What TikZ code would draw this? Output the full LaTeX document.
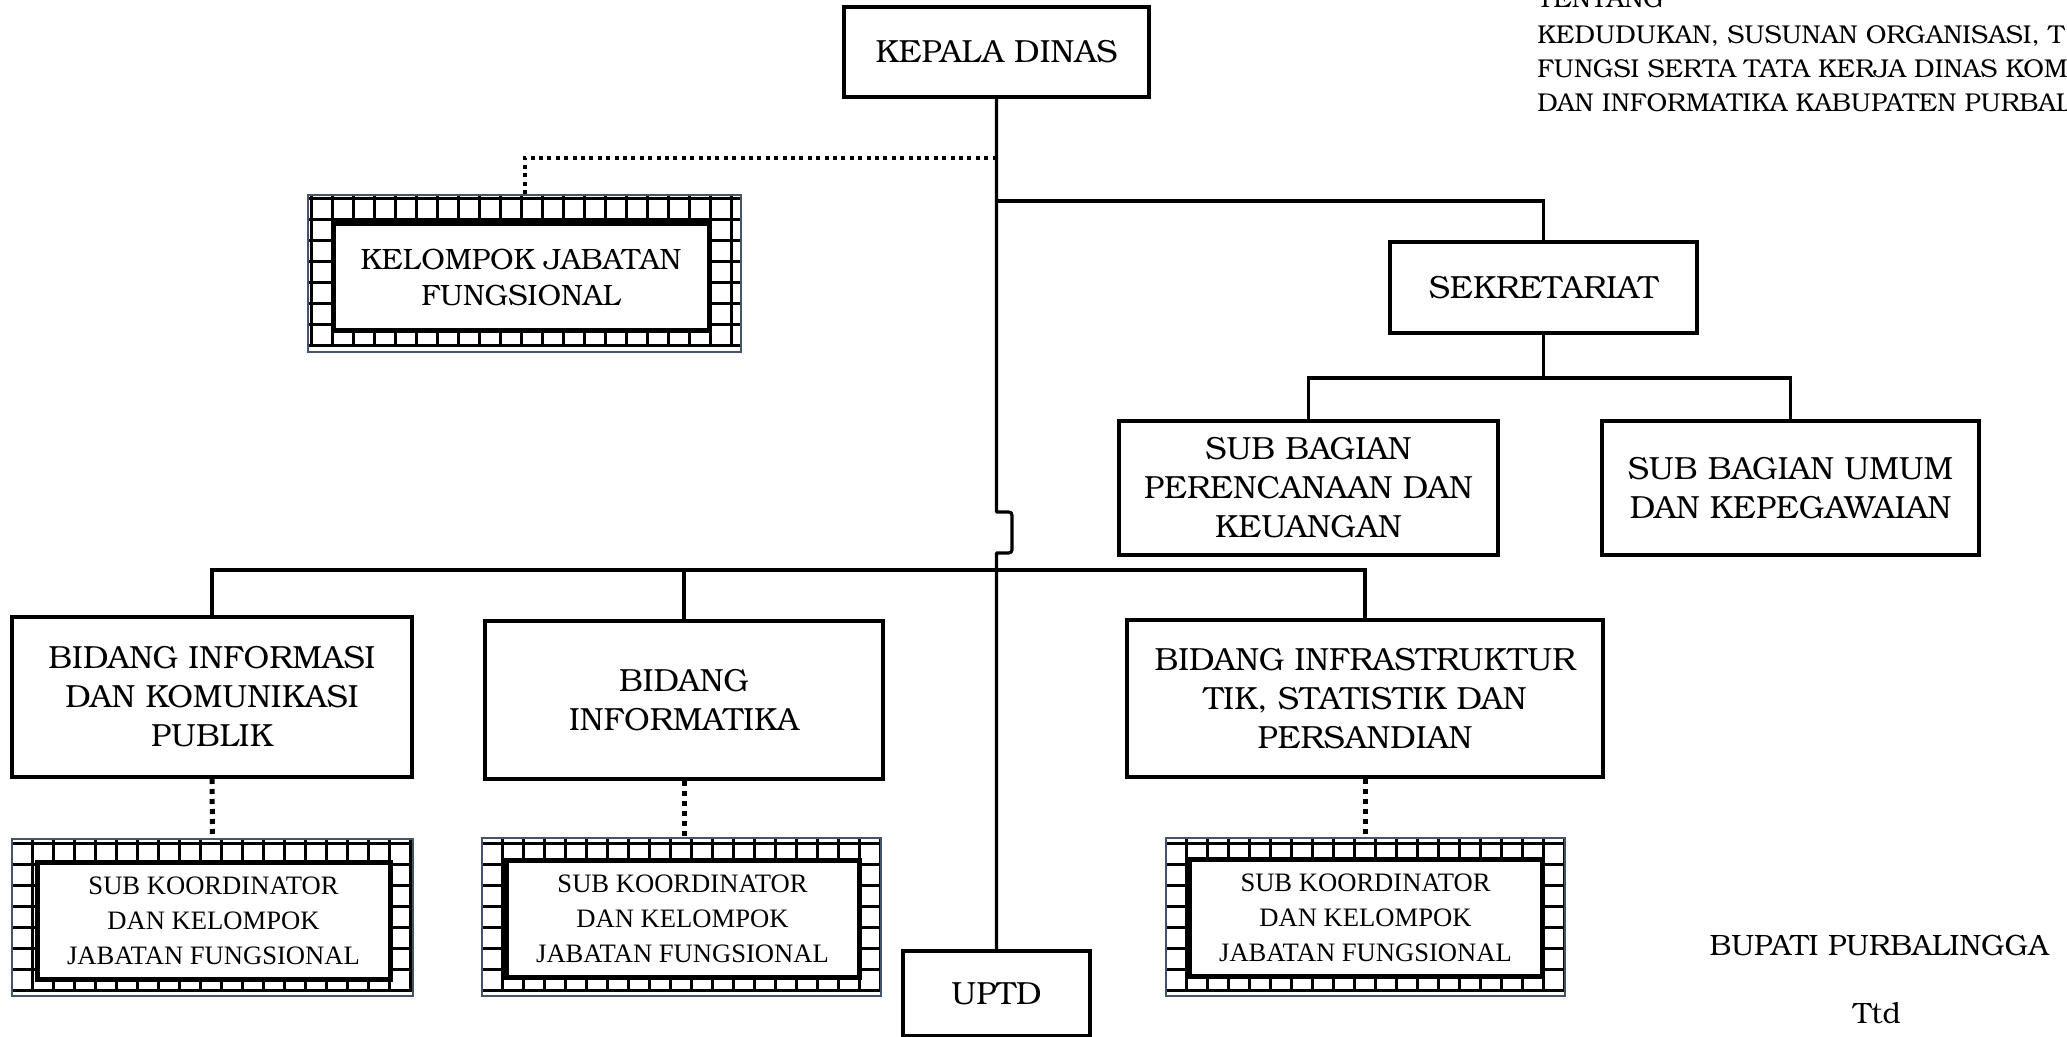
\documentclass[tikz,border=0pt]{standalone}
\usepackage{fontspec}
\setmainfont{texgyrebonum}[Extension=.otf, UprightFont=*-regular, BoldFont=*-bold, ItalicFont=*-italic, BoldItalicFont=*-bolditalic]
\newfontfamily\timesf{Liberation Serif}
\definecolor{gridblue}{HTML}{44546A}
\newcommand\gridfill[3]{%
  \begin{scope}
    \clip (#1.south west) rectangle (#1.north east);
    \begin{scope}[shift={(#1.south west)}, xshift=#2, yshift=#3]
      \draw[gridline] (-12pt,0pt) grid (250pt,100pt);
    \end{scope}
  \end{scope}
  \draw[gridborder] (#1.south west) rectangle (#1.north east);}
\begin{document}
\begin{tikzpicture}[x=0.5pt,y=-0.5pt,
  box/.style={draw, line width=2pt, align=center, inner sep=0pt, fill=white,
    font=\fontsize{16}{19.5}\selectfont},
  conn/.style={line width=1.6pt},
  dotsh/.style={line width=2pt, dash pattern=on 2pt off 2.2pt},
  dotsv/.style={line width=2.5pt, dash pattern=on 2.5pt off 2.5pt},
  gridbox/.style={inner sep=0pt},
  gridline/.style={black, line width=1.5pt, step=10.5pt},
  gridborder/.style={draw=gridblue, line width=1pt},
  innerbox/.style={draw, line width=2.5pt, fill=white, align=center, inner sep=0pt,
    font=\timesf\fontsize{13.3}{17.5}\selectfont},
  plain/.style={inner sep=0pt}
]
\useasboundingbox (0,0) rectangle (2067,1037);

% header text
\begin{scope}[every node/.style={plain, anchor=base west, font=\fontsize{12.9}{15}\selectfont}]
\node (t1) at (1537,8) {TENTANG};
\node (t2) at (1537,44) {KEDUDUKAN, SUSUNAN ORGANISASI, T};
\node (t3) at (1537,78) {FUNGSI SERTA TATA KERJA DINAS KOM};
\node (t4) at (1537,112) {DAN INFORMATIKA KABUPATEN PURBAL};
\end{scope}

% boxes
\node[box, minimum width=152.5pt, minimum height=45pt] (kepala) at (996.5,52) {KEPALA DINAS};
\node[box, minimum width=153.5pt, minimum height=45.5pt] (sek) at (1543.5,287.5) {SEKRETARIAT};
\node[box, minimum width=189.5pt, minimum height=67pt] (subper) at (1308.5,488) {SUB BAGIAN\\PERENCANAAN DAN\\KEUANGAN};
\node[box, minimum width=188.5pt, minimum height=67pt] (subumum) at (1790.5,488) {SUB BAGIAN UMUM\\DAN KEPEGAWAIAN};
\node[box, minimum width=200pt, minimum height=80pt] (bid1) at (212,697) {BIDANG INFORMASI\\DAN KOMUNIKASI\\PUBLIK};
\node[box, minimum width=199pt, minimum height=79pt] (bid2) at (684,700) {BIDANG\\INFORMATIKA};
\node[box, minimum width=238pt, minimum height=78.5pt] (bid3) at (1365,698.5) {BIDANG INFRASTRUKTUR\\TIK, STATISTIK DAN\\PERSANDIAN};
\node[box, minimum width=93.5pt, minimum height=42.5pt] (uptd) at (996.5,993.5) {UPTD};

% grid boxes (outer frames)
\node[gridbox, minimum width=216.5pt, minimum height=78.5pt] (kjf) at (524.5,273.5) {};
\node[gridbox, minimum width=200.5pt, minimum height=78.5pt] (sk1) at (212.5,917.5) {};
\node[gridbox, minimum width=199.5pt, minimum height=79pt] (sk2) at (681.5,917) {};
\node[gridbox, minimum width=199.5pt, minimum height=79pt] (sk3) at (1365.5,917) {};
\gridfill{kjf}{2pt}{3.5pt}
\gridfill{sk1}{0pt}{3pt}
\gridfill{sk2}{0pt}{3pt}
\gridfill{sk3}{0pt}{3pt}

% inner boxes
\node[innerbox, font=\fontsize{14.7}{17.8}\selectfont, minimum width=188pt, minimum height=53.5pt] (kjfin) at (521,277.5) {KELOMPOK JABATAN\\FUNGSIONAL};
\node[innerbox, minimum width=176.5pt, minimum height=58.5pt] (sk1in) at (213.5,920.5) {SUB KOORDINATOR\\DAN KELOMPOK\\JABATAN FUNGSIONAL};
\node[innerbox, minimum width=176.5pt, minimum height=58.5pt] (sk2in) at (682.5,918.5) {SUB KOORDINATOR\\DAN KELOMPOK\\JABATAN FUNGSIONAL};
\node[innerbox, minimum width=176.5pt, minimum height=58.5pt] (sk3in) at (1365.5,917.5) {SUB KOORDINATOR\\DAN KELOMPOK\\JABATAN FUNGSIONAL};

% signature
\node[plain, font=\fontsize{14.7}{17}\selectfont] (bupati) at (1879,945) {BUPATI PURBALINGGA};
\node[plain, font=\fontsize{14.7}{17}\selectfont] (ttd) at (1877,1013) {Ttd};

% junction coordinates
\coordinate (jk) at (996.5,158);
\coordinate (js) at (996.5,201);
\coordinate (jsb) at (1543.5,378);
\coordinate (jb) at (996.5,570);

% main vertical with jump
\draw[conn, line join=round] (kepala.south) -- (996.5,512) -- (1005,512)
  .. controls (1012,512) .. (1012,519) -- (1012,546)
  .. controls (1012,553) .. (1005,553) -- (996.5,553) -- (uptd.north);

% sekretariat
\draw[conn] (js) -| (sek.north);
\draw[conn] (sek.south) -- (jsb);
\draw[conn] (subper.north) |- (jsb);
\draw[conn] (subumum.north) |- (jsb);

% bidang bus
\draw[conn] (bid1.north) |- (jb);
\draw[conn] (bid3.north) |- (jb);
\draw[conn] (bid2.north) -- (bid2.north |- jb);

% dotted links
\draw[dotsh] (jk) -| (kjf.north);
\draw[dotsv] (bid1.south) -- (sk1.north);
\draw[dotsv] (bid2.south) -- (bid2.south |- sk2.north);
\draw[dotsv] (bid3.south) -- (bid3.south |- sk3.north);
\end{tikzpicture}
\end{document}
